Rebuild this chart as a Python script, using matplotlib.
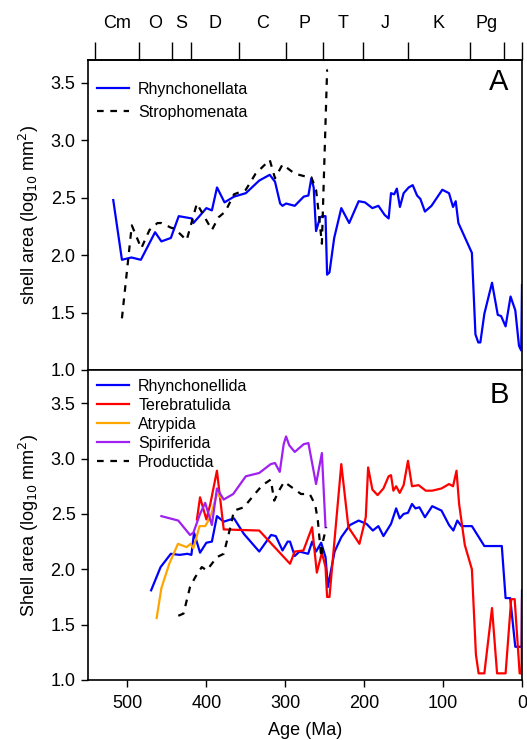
import matplotlib
matplotlib.use("Agg")
import matplotlib.pyplot as plt
from matplotlib.ticker import FixedLocator, NullFormatter, FixedFormatter

plt.rcParams['font.family'] = ['Liberation Sans', 'DejaVu Sans']

# ---------------- data ----------------
period_names = ['Cm', 'O', 'S', 'D', 'C', 'P', 'T', 'J', 'K', 'Pg', '']
period_bounds = [541, 485.4, 443.8, 419.2, 358.9, 298.9, 251.9, 201.3, 145, 66, 23, 0]

# Panel A
rhynchonellata_age = [518, 507, 495, 483, 465, 457, 445, 435, 418.5, 416.5, 410, 400, 393, 386.5, 377,
                      365, 350, 333, 319.7, 313, 306.5, 303.5, 299, 288, 276.6, 270.7, 267, 264,
                      261, 255.8, 253, 249, 247, 244, 238, 229, 219, 207, 199, 189.6, 182, 174,
                      169, 166, 162, 158.6, 154.7, 150, 143.6, 138.5, 133, 128.8, 123, 114.7, 101,
                      92.5, 87.4, 84, 80.6, 63.5, 59, 55.4, 52.8, 47.7, 38, 30.7, 26.5, 20.8, 14.5,
                      8.5, 3.8, 1, 0]
rhynchonellata_val = [2.48, 1.96, 1.98, 1.96, 2.20, 2.12, 2.15, 2.34, 2.32, 2.28, 2.33, 2.41, 2.39, 2.59, 2.46,
                      2.51, 2.54, 2.65, 2.70, 2.64, 2.45, 2.43, 2.45, 2.43, 2.51, 2.52, 2.67, 2.59,
                      2.21, 2.33, 2.34, 2.34, 1.83, 1.85, 2.15, 2.41, 2.28, 2.47, 2.46, 2.41, 2.43, 2.35,
                      2.32, 2.54, 2.53, 2.58, 2.42, 2.54, 2.59, 2.61, 2.52, 2.49, 2.38, 2.43, 2.57,
                      2.54, 2.42, 2.47, 2.28, 2.02, 1.31, 1.24, 1.24, 1.49, 1.76, 1.48, 1.47, 1.38, 1.64,
                      1.52, 1.21, 1.17, 1.74]

strophomenata_age = [507, 494.5, 482.5, 472, 462, 457, 445, 440, 425, 412, 393, 384.5, 376, 365, 350,
                     337.6, 322.6, 319.7, 313, 303.5, 288, 271.5, 267, 261, 257, 253.6, 247, 246]
strophomenata_val = [1.45, 2.26, 2.06, 2.22, 2.28, 2.28, 2.24, 2.23, 2.13, 2.45, 2.22, 2.33, 2.38, 2.53, 2.57,
                     2.71, 2.81, 2.83, 2.67, 2.79, 2.71, 2.68, 2.68, 2.57, 2.33, 2.10, 3.61, 3.61]

# Panel B
rhynchonellida_age = [470, 458, 445, 434, 424, 419, 415.6, 408, 400, 393, 386.6, 378, 365, 352.5, 333,
                      318, 312, 303.5, 297, 294, 288, 282, 271, 266, 261, 254.5, 249, 246, 237.5,
                      229, 218, 207, 197, 189, 182, 175.6, 166, 159.5, 155, 150, 144.5, 139.4, 135,
                      130, 123, 113.8, 102, 92.5, 87, 82, 76.7, 63.5, 47.7, 25.6, 20.8, 15, 8.5,
                      0.5, 0]
rhynchonellida_val = [1.81, 2.02, 2.14, 2.13, 2.14, 2.13, 2.33, 2.15, 2.24, 2.25, 2.48, 2.43, 2.46, 2.32, 2.16,
                      2.31, 2.30, 2.17, 2.25, 2.25, 2.12, 2.16, 2.14, 2.25, 2.16, 2.24, 2.11, 1.84, 2.16,
                      2.29, 2.40, 2.44, 2.41, 2.35, 2.39, 2.30, 2.41, 2.55, 2.46, 2.50, 2.51, 2.59, 2.55,
                      2.56, 2.47, 2.57, 2.53, 2.40, 2.35, 2.44, 2.39, 2.39, 2.21, 2.21, 1.74, 1.74, 1.30,
                      1.30, 1.81]

terebratulida_age = [412, 408, 400, 395, 386.6, 378, 333, 294, 288, 277, 266, 260, 253.6, 249, 247, 244,
                     229, 220, 206, 198, 195, 189.6, 183, 175.6, 169, 166, 163, 159.5, 155, 150, 144.5,
                     139.4, 131, 122, 113.8, 102, 92.5, 87.4, 83, 79.7, 72.5, 63.5, 58.4, 55, 47.7,
                     38, 31.6, 20.8, 13.7, 9.3, 3, 0.5, 0]
terebratulida_val = [2.45, 2.65, 2.45, 2.59, 2.89, 2.36, 2.35, 2.05, 2.16, 2.17, 2.38, 1.97, 2.15, 2.02, 1.75, 1.75,
                     2.95, 2.38, 2.23, 2.47, 2.92, 2.72, 2.67, 2.73, 2.84, 2.85, 2.71, 2.75, 2.69, 2.76, 2.98,
                     2.75, 2.76, 2.71, 2.71, 2.73, 2.77, 2.75, 2.89, 2.59, 2.22, 2.00, 1.23, 1.06, 1.06,
                     1.65, 1.06, 1.06, 1.73, 1.73, 1.06, 1.06, 1.73]

atrypida_age = [463, 457, 447, 436, 425, 420, 416.5, 408.6, 401.5, 395, 386.6, 382]
atrypida_val = [1.56, 1.83, 2.05, 2.23, 2.20, 2.23, 2.19, 2.39, 2.39, 2.47, 2.68, 2.65]

spiriferida_age = [457, 435.6, 420.7, 416.5, 408, 401.5, 393, 386.6, 378, 366, 350, 333, 318.4, 313, 307,
                   302, 299, 295, 288, 276.6, 270.7, 261, 253.6, 249]
spiriferida_val = [2.48, 2.44, 2.31, 2.33, 2.50, 2.60, 2.40, 2.73, 2.63, 2.68, 2.84, 2.87, 2.95, 2.96, 2.88,
                   3.13, 3.20, 3.12, 3.06, 3.13, 3.14, 2.77, 3.05, 2.38]

productida_age = [435.6, 429, 420.7, 414, 405.8, 399.5, 386.6, 378, 369.6, 365, 352.5, 339.8, 329, 318.4,
                  314, 308, 301.4, 280, 269, 262, 258.7, 254.5, 252, 248]
productida_val = [1.58, 1.60, 1.84, 1.93, 2.02, 1.99, 2.11, 2.14, 2.38, 2.53, 2.56, 2.67, 2.76, 2.81,
                  2.62, 2.71, 2.79, 2.68, 2.68, 2.58, 2.44, 2.11, 2.26, 2.38]

yticks = [1.0, 1.5, 2.0, 2.5, 3.0, 3.5]
xticks = [500, 400, 300, 200, 100, 0]

# ---------------- figure ----------------
W, H = 527, 740
fig = plt.figure(figsize=(W / 100, H / 100), dpi=100)
left = 88 / W
width = (522 - 88) / W
axA = fig.add_axes([left, (H - 370) / H, width, 310 / H])
axB = fig.add_axes([left, (H - 680) / H, width, 310 / H])

BLUE = '#0000FF'
RED = '#FF0000'
ORANGE = '#FFA500'
PURPLE = '#A020F0'
lw = 1.6
dash = (0, (3, 3))

axA.plot(rhynchonellata_age, rhynchonellata_val, color=BLUE, lw=lw, label='Rhynchonellata')
axA.plot(strophomenata_age, strophomenata_val, color='black', lw=lw, ls=dash, label='Strophomenata')

axB.plot(rhynchonellida_age, rhynchonellida_val, color=BLUE, lw=lw, label='Rhynchonellida')
axB.plot(terebratulida_age, terebratulida_val, color=RED, lw=lw, label='Terebratulida')
axB.plot(atrypida_age, atrypida_val, color=ORANGE, lw=lw, label='Atrypida')
axB.plot(spiriferida_age, spiriferida_val, color=PURPLE, lw=lw, label='Spiriferida')
axB.plot(productida_age, productida_val, color='black', lw=lw, ls=dash, label='Productida')

tfs = 13
lfs = 11.5
for ax in (axA, axB):
    ax.set_xlim(550, 0)
    ax.set_yticks(yticks)
    ax.set_yticklabels([f'{v:.1f}' for v in yticks])
    ax.tick_params(axis='y', direction='out', length=5, width=1, labelsize=tfs, pad=4)
    for s in ax.spines.values():
        s.set_linewidth(1.2)

axA.set_ylim(1.0, 3.7)
axB.set_ylim(1.0, 3.8)

axA.set_xticks([])
axB.set_xticks(xticks)
axB.set_xticklabels([str(v) for v in xticks])
axB.tick_params(axis='x', direction='out', length=5, width=1, labelsize=tfs, pad=6)
axB.set_xlabel('Age (Ma)', fontsize=tfs, labelpad=7)

axA.set_ylabel('shell area (log$_{10}$ mm$^2$)', fontsize=tfs, labelpad=7)
axB.set_ylabel('Shell area (log$_{10}$ mm$^2$)', fontsize=tfs, labelpad=7)

# geologic time scale on top of panel A
top = axA.secondary_xaxis('top')
top.xaxis.set_major_locator(FixedLocator(period_bounds))
top.xaxis.set_major_formatter(NullFormatter())
mids = [(period_bounds[i] + period_bounds[i + 1]) / 2 for i in range(len(period_names))]
top.xaxis.set_minor_locator(FixedLocator(mids))
top.xaxis.set_minor_formatter(FixedFormatter(period_names))
top.tick_params(axis='x', which='major', direction='out', length=13, width=1)
top.tick_params(axis='x', which='minor', length=13, width=0, labelsize=tfs, pad=7)
top.spines['top'].set_linewidth(1.2)

axA.legend(loc='upper left', bbox_to_anchor=(0.02, 0.93), frameon=False, fontsize=lfs,
           handlelength=2.0, handletextpad=0.6, labelspacing=0.5, borderpad=0, borderaxespad=0)
axB.legend(loc='upper left', bbox_to_anchor=(0.02, 0.972), frameon=False, fontsize=lfs,
           handlelength=2.0, handletextpad=0.6, labelspacing=0.25, borderpad=0, borderaxespad=0)

axA.text(0.947, 0.93, 'A', transform=axA.transAxes, fontsize=21, ha='center', va='center')
axB.text(0.947, 0.92, 'B', transform=axB.transAxes, fontsize=21, ha='center', va='center')

fig.savefig('out.png', dpi=100)
